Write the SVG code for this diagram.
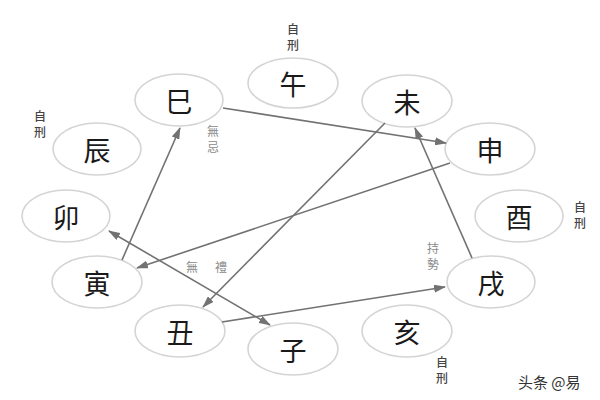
<svg xmlns="http://www.w3.org/2000/svg" width="600" height="400" viewBox="0 0 600 400">
<style>
.n ellipse{fill:#fff;stroke:#d4d4d4;stroke-width:1.6}
.n text{font-family:"Noto Sans CJK TC","Noto Sans CJK SC",sans-serif;font-size:27px;fill:#1a1a1a;text-anchor:middle;dominant-baseline:central}
.c line{stroke:#727272;stroke-width:1.6}
.lb{font-family:"Noto Sans CJK TC","Noto Sans CJK SC",sans-serif;font-size:12px;text-anchor:middle;fill:#444;font-weight:500}
.lg{fill:#8a8a8a;font-weight:400}
.wm{font-family:"Noto Sans CJK SC",sans-serif;font-size:15px;fill:#333}
</style>
<defs>
<marker id="ah" markerWidth="12" markerHeight="8" refX="11" refY="4" orient="auto" markerUnits="userSpaceOnUse">
<path d="M0,0 L12,4 L0,8 z" fill="#727272"/>
</marker>
<marker id="as" markerWidth="12" markerHeight="8" refX="1" refY="4" orient="auto" markerUnits="userSpaceOnUse">
<path d="M12,0 L0,4 L12,8 z" fill="#727272"/>
</marker>
</defs>
<rect width="600" height="400" fill="#fff"/>
<g id="n-wu" class="n"><ellipse cx="293" cy="83" rx="45" ry="25"/><text x="293" y="83">午</text></g>
<g id="n-si" class="n"><ellipse cx="179" cy="100" rx="44" ry="26"/><text x="179" y="100">巳</text></g>
<g id="n-chen" class="n"><ellipse cx="97" cy="149" rx="44" ry="26"/><text x="97" y="149">辰</text></g>
<g id="n-mao" class="n"><ellipse cx="66" cy="216" rx="44" ry="26"/><text x="66" y="216">卯</text></g>
<g id="n-yin" class="n"><ellipse cx="97" cy="282" rx="45" ry="26"/><text x="97" y="282">寅</text></g>
<g id="n-chou" class="n"><ellipse cx="180" cy="331" rx="45" ry="26"/><text x="180" y="331">丑</text></g>
<g id="n-zi" class="n"><ellipse cx="293" cy="349" rx="45" ry="26"/><text x="293" y="349">子</text></g>
<g id="n-hai" class="n"><ellipse cx="407" cy="331" rx="45" ry="26"/><text x="407" y="331">亥</text></g>
<g id="n-xu" class="n"><ellipse cx="491" cy="282" rx="44" ry="26"/><text x="491" y="282">戌</text></g>
<g id="n-you" class="n"><ellipse cx="519" cy="216" rx="44" ry="26"/><text x="519" y="216">酉</text></g>
<g id="n-shen" class="n"><ellipse cx="490" cy="149" rx="45" ry="26"/><text x="490" y="149">申</text></g>
<g id="n-wei" class="n"><ellipse cx="407" cy="101" rx="45" ry="26"/><text x="407" y="101">未</text></g>
<g id="connectors" class="c">
<line x1="223" y1="108" x2="446" y2="143" marker-end="url(#ah)"/>
<line x1="450" y1="163" x2="137" y2="268" marker-end="url(#ah)"/>
<line x1="385" y1="123" x2="203" y2="307" marker-end="url(#ah)"/>
<line x1="472" y1="258" x2="415" y2="128" marker-end="url(#ah)"/>
<line x1="222" y1="322" x2="445" y2="287" marker-end="url(#ah)"/>
<line x1="122" y1="260" x2="180" y2="128" marker-end="url(#ah)"/>
<line x1="109" y1="231" x2="270" y2="325" marker-start="url(#as)" marker-end="url(#ah)"/>
</g>
<g id="labels">
<text class="lb" x="293" y="34">自</text><text class="lb" x="293" y="50">刑</text>
<text class="lb" x="40" y="121">自</text><text class="lb" x="40" y="137">刑</text>
<text class="lb" x="580" y="212">自</text><text class="lb" x="580" y="228">刑</text>
<text class="lb" x="442" y="367">自</text><text class="lb" x="442" y="383">刑</text>
<text class="lb lg" x="213" y="136">無</text><text class="lb lg" x="213" y="152">忌</text>
<text class="lb lg" x="433" y="253">持</text><text class="lb lg" x="433" y="269">勢</text>
<text class="lb lg" x="192" y="272">無</text><text class="lb lg" x="221" y="272">禮</text>
</g>
<text class="wm" x="518" y="388">头条 @易</text>
</svg>
